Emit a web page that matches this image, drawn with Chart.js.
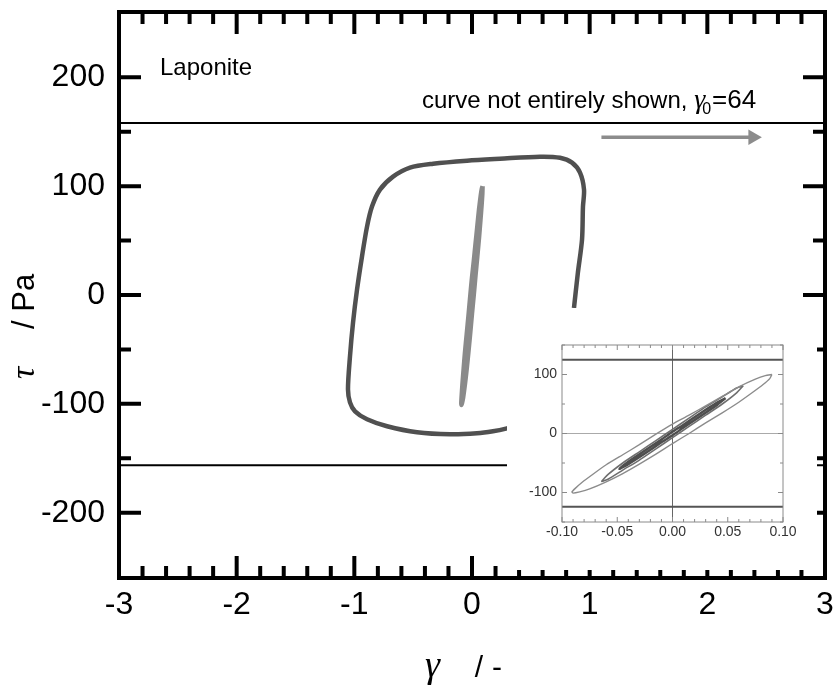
<!DOCTYPE html>
<html>
<head>
<meta charset="utf-8">
<title>Laponite</title>
<script src="https://cdn.jsdelivr.net/npm/chart.js@4.4.1/dist/chart.umd.min.js"></script>
<style>
  body { margin: 0; background: #fff; }
  #wrap { position: relative; width: 838px; height: 696px; font-family: 'Liberation Sans', Arial, sans-serif; }
  #wrap canvas { position: absolute; left: 0; top: 0; }
  #wrap #insetChart { left: 507px; top: 308px; background: #fff; }
  .label { position: absolute; white-space: pre; color: #000; }
  .greek { font-family: 'Liberation Serif', 'DejaVu Serif', serif; font-style: italic; }
  #sample { left: 160px; top: 55px; font-size: 24px; line-height: 24px; }
  #note { left: 422px; top: 87px; font-size: 24px; line-height: 24px; }
  #note .greek { font-size: 28px; }
  #note sub { font-size: 16px; line-height: 0; vertical-align: -6px; margin-left: -3px; }
  #note .val { font-size: 26px; margin-left: 1px; }
  #xTitle { left: 425px; top: 645px; font-size: 38px; line-height: 38px; }
  #xTitle .unit { font-size: 30px; letter-spacing: 9px; }
  #yTitle { left: 5px; top: 379px; font-size: 34px; line-height: 34px; transform: rotate(-90deg); transform-origin: left top; }
  #yTitle .unit { font-size: 31px; margin-left: 12px; }
</style>
</head>
<body>
<div id="wrap">
  <canvas id="mainChart" width="838" height="696"></canvas>
  <canvas id="insetChart" width="310" height="262"></canvas>
  <div class="label" id="sample">Laponite</div>
  <div class="label" id="note">curve not entirely shown, <span class="greek">γ</span><sub>0</sub><span class="val">=64</span></div>
  <div class="label" id="xTitle"><span class="greek">γ</span><span class="unit">  /-</span></div>
  <div class="label" id="yTitle"><span class="greek">τ</span><span class="unit">   / Pa</span></div>
</div>

<script>
Chart.defaults.font.family = "'Liberation Sans', Arial, sans-serif";
Chart.defaults.color = '#000';

// γ0 = 1 loop, traced around from the end of the right branch (lower right part runs under the inset)
const bigLoopGamma = [0.867, 0.90, 0.935, 0.943, 0.952, 0.918, 0.85, 0.748, 0.578, 0.238, -0.042, -0.33,
  -0.527, -0.671, -0.782, -0.85, -0.892, -0.935, -0.977, -1.011, -1.037, -1.054, -1.037, -0.994,
  -0.892, -0.722, -0.467, -0.187, 0.042, 0.178, 0.297, 0.45, 0.60, 0.72, 0.80, 0.84, 0.86, 0.867];
const bigLoopTau = [-11.5, 20.6, 50.9, 81.2, 96.8, 112.4, 121.6, 126.1, 127.1, 125.2, 123.4, 120.6,
  117, 108.7, 96.8, 81.2, 62.8, 35.3, 5, -25.2, -56.4, -86.7, -98.6, -106.9,
  -114.2, -120.6, -126.1, -128, -127.1, -125.2, -122.5, -118, -111, -100, -82, -55, -30, -11.5];

// γ0 ≈ 0.09 loop (drawn in both plots)
const loopAGamma = [0.090, 0.084, 0.075, 0.060, 0.045, 0.030, 0.015, 0.000, -0.015, -0.030, -0.045, -0.060,
  -0.072, -0.082, -0.088, -0.091, -0.090, -0.084, -0.075, -0.060, -0.045, -0.030, -0.015, 0.000,
  0.015, 0.030, 0.045, 0.060, 0.072, 0.082, 0.088, 0.090];
const loopATau = [100, 98, 92, 79, 63, 47, 31, 16, -1, -19, -36, -53,
  -69, -83, -93, -99, -101, -99, -94, -82, -68, -52, -35, -17,
  0, 18, 35, 53, 69, 83, 93, 100];

// smaller loops, inset only
const loopBGamma = [0.064, 0.058, 0.045, 0.030, 0.015, 0.000, -0.015, -0.030, -0.045, -0.058, -0.064,
  -0.058, -0.045, -0.030, -0.015, 0.000, 0.015, 0.030, 0.045, 0.058, 0.064];
const loopBTau = [81, 77, 62, 45, 26, 7, -12, -31, -50, -69, -81,
  -77, -62, -45, -26, -7, 12, 31, 50, 69, 81];
const loopCGamma = [0.048, 0.040, 0.025, 0.010, 0.000, -0.010, -0.025, -0.040, -0.048,
  -0.040, -0.025, -0.010, 0.000, 0.010, 0.025, 0.040, 0.048];
const loopCTau = [60, 52, 34, 15, 3, -10, -29, -48, -60,
  -52, -34, -15, -3, 10, 29, 48, 60];

// γ0 = 64 curve, only its flat parts fall inside the axes
const limitGamma = [-3, 3];
const upperLimitTau = [158, 158];
const lowerLimitTau = [-156.5, -156.5];
const arrowGamma = [1.10, 2.387];
const arrowTau = [145, 145];

// plateau of the γ0 = 1 loop seen in the inset
const plateauGamma = [-0.1, 0.1];
const plateauUpperTau = [125, 125];
const plateauLowerTau = [-124, -124];

const mainTicks = { xMin: -3, xMax: 3, xStep: 0.2, yMin: -260, yMax: 260, yStep: 50, yLabelStep: 100 };
const insetTicks = { xMin: -0.1, xMax: 0.1, xStep: 0.01, xLabelStep: 0.05, yMin: -150, yMax: 150, yStep: 50, yLabelStep: 100 };

const points = (xs, ys) => xs.map((x, i) => ({ x, y: ys[i] }));
const onStep = (v, step) => Math.abs(v / step - Math.round(v / step)) < 1e-6;

// box frame with inward ticks on all four sides
const frameTicks = {
  id: 'frameTicks',
  afterDatasetsDraw(chart, args, opts) {
    const { ctx, chartArea: area, scales: { x, y } } = chart;
    ctx.save();
    ctx.strokeStyle = opts.color;
    ctx.lineWidth = opts.tickWidth;
    ctx.beginPath();
    x.ticks.forEach(t => {
      if (!onStep(t.value, opts.xStep)) return;
      const px = x.getPixelForValue(t.value);
      const len = t.label !== '' ? opts.major : opts.minor;
      ctx.moveTo(px, area.bottom); ctx.lineTo(px, area.bottom - len);
      ctx.moveTo(px, area.top); ctx.lineTo(px, area.top + len);
    });
    y.ticks.forEach(t => {
      if (!onStep(t.value, opts.yStep)) return;
      const py = y.getPixelForValue(t.value);
      const len = t.label !== '' ? opts.major : opts.minor;
      ctx.moveTo(area.left, py); ctx.lineTo(area.left + len, py);
      ctx.moveTo(area.right, py); ctx.lineTo(area.right - len, py);
    });
    ctx.stroke();
    ctx.lineWidth = opts.frameWidth;
    ctx.strokeRect(area.left, area.top, area.width, area.height);
    ctx.restore();
  }
};

function fixedBox(size) {
  return scale => {
    if (scale.isHorizontal()) scale.height = size; else scale.width = size;
    scale.paddingTop = 0; scale.paddingBottom = 0;
    scale.paddingLeft = 0; scale.paddingRight = 0;
  };
}

function line(data, color, width, extra = {}) {
  return Object.assign({
    data, showLine: true, borderColor: color, borderWidth: width,
    pointRadius: 0, tension: 0.3, fill: false
  }, extra);
}

const mainChart = new Chart(document.getElementById('mainChart'), {
  type: 'scatter',
  data: {
    datasets: [
      line(points(limitGamma, upperLimitTau), '#000', 2, { tension: 0 }),
      line(points(limitGamma, lowerLimitTau), '#000', 2, { tension: 0 }),
      line(points(bigLoopGamma, bigLoopTau), '#505050', 4.5),
      line(points(loopAGamma, loopATau), '#8a8a8a', 4.5, { tension: 0.2 }),
      line(points(arrowGamma, arrowTau), '#8c8c8c', 3.5, {
        tension: 0,
        pointRadius: [0, 9],
        pointStyle: 'triangle',
        rotation: 90,
        pointBackgroundColor: '#8c8c8c',
        pointBorderColor: '#8c8c8c',
        pointBorderWidth: 0
      })
    ]
  },
  options: {
    responsive: false,
    animation: false,
    events: [],
    layout: { padding: { left: 0, right: 13, top: 12, bottom: 0 } },
    plugins: {
      legend: { display: false },
      tooltip: { enabled: false },
      frameTicks: {
        color: '#000', tickWidth: 4, frameWidth: 4, major: 22, minor: 12,
        xStep: mainTicks.xStep, yStep: mainTicks.yStep
      }
    },
    scales: {
      x: {
        type: 'linear',
        min: mainTicks.xMin,
        max: mainTicks.xMax,
        afterFit: fixedBox(118),
        grid: { display: false, drawTicks: false },
        border: { display: false },
        ticks: {
          stepSize: mainTicks.xStep,
          autoSkip: false,
          maxRotation: 0,
          minRotation: 0,
          padding: 8,
          font: { size: 32 },
          callback: v => onStep(v, 1) ? String(Math.round(v)) : ''
        }
      },
      y: {
        type: 'linear',
        min: mainTicks.yMin,
        max: mainTicks.yMax,
        afterFit: fixedBox(119),
        grid: { display: false, drawTicks: false },
        border: { display: false },
        ticks: {
          stepSize: mainTicks.yStep,
          autoSkip: false,
          padding: 14,
          font: { size: 32 },
          callback: v => onStep(v, mainTicks.yLabelStep) ? String(Math.round(v)) : ''
        }
      }
    }
  },
  plugins: [frameTicks]
});

const insetChart = new Chart(document.getElementById('insetChart'), {
  type: 'scatter',
  data: {
    datasets: [
      line(points(plateauGamma, plateauUpperTau), '#555', 2, { tension: 0 }),
      line(points(plateauGamma, plateauLowerTau), '#555', 2, { tension: 0 }),
      line(points(loopAGamma, loopATau), '#8c8c8c', 1.4, { tension: 0.2 }),
      line(points(loopBGamma, loopBTau), '#6e6e6e', 1.6, { tension: 0.2 }),
      line(points(loopCGamma, loopCTau), '#4e4e4e', 2.4, { tension: 0.2 })
    ]
  },
  options: {
    responsive: false,
    animation: false,
    events: [],
    layout: { padding: { left: 0, right: 34, top: 37, bottom: 0 } },
    plugins: {
      legend: { display: false },
      tooltip: { enabled: false },
      frameTicks: {
        color: '#8a8a8a', tickWidth: 1, frameWidth: 1, major: 5, minor: 3,
        xStep: insetTicks.xStep, yStep: insetTicks.yStep
      }
    },
    scales: {
      x: {
        type: 'linear',
        min: insetTicks.xMin,
        max: insetTicks.xMax,
        afterFit: fixedBox(48),
        grid: {
          drawTicks: false,
          lineWidth: 1,
          color: c => Math.abs(c.tick.value) < 1e-9 ? '#666' : 'rgba(0,0,0,0)'
        },
        border: { display: false },
        ticks: {
          stepSize: insetTicks.xStep,
          autoSkip: false,
          maxRotation: 0,
          minRotation: 0,
          padding: 2,
          color: '#333',
          font: { size: 14 },
          callback: v => onStep(v, insetTicks.xLabelStep) ? v.toFixed(2) : ''
        }
      },
      y: {
        type: 'linear',
        min: insetTicks.yMin,
        max: insetTicks.yMax,
        afterFit: fixedBox(55),
        grid: {
          drawTicks: false,
          lineWidth: 1,
          color: c => Math.abs(c.tick.value) < 1e-9 ? '#aaa' : 'rgba(0,0,0,0)'
        },
        border: { display: false },
        ticks: {
          stepSize: insetTicks.yStep,
          autoSkip: false,
          padding: 5,
          color: '#333',
          font: { size: 14 },
          callback: v => onStep(v, insetTicks.yLabelStep) ? String(Math.round(v)) : ''
        }
      }
    }
  },
  plugins: [frameTicks]
});
</script>
</body>
</html>
